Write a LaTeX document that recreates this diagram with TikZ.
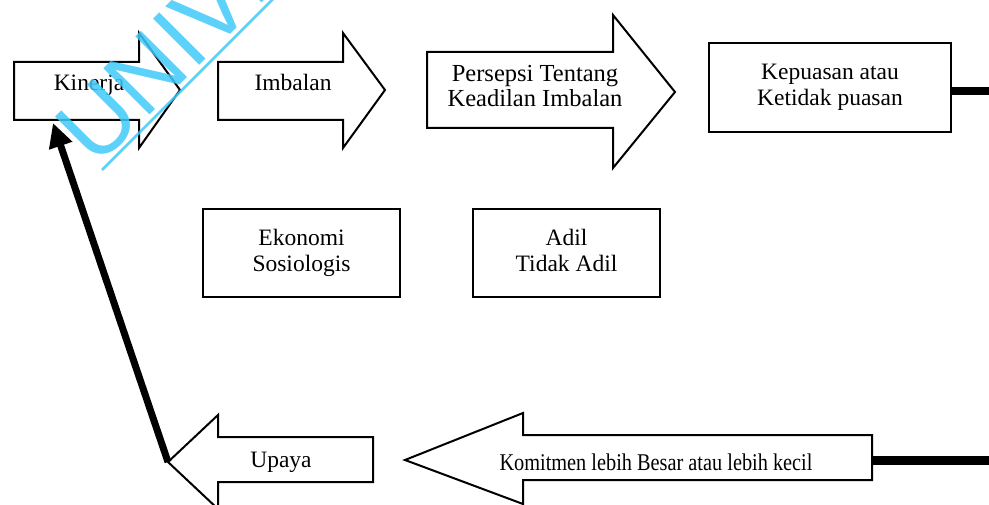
\documentclass[tikz,border=0pt]{standalone}
\usepackage{fontspec}
\setmainfont{Liberation Serif}
\newfontfamily\wmfont{Liberation Sans}
\usetikzlibrary{arrows.meta}
\definecolor{wmcyan}{RGB}{64,201,250}
\begin{document}
\begin{tikzpicture}[x=1pt,y=-1pt,
  shapeline/.style={draw=black,line width=2pt,line join=miter,fill=white},
  lbl/.style={font=\fontsize{23.5}{26}\selectfont,align=center,inner sep=0pt},
  boxnode/.style={shapeline,lbl,minimum width=#1},
  thickline/.style={draw=black,line width=8pt},
  wmtext/.style={font=\wmfont\fontsize{95}{95}\selectfont,text=wmcyan,inner sep=0pt,opacity=0.85},
  ]
\useasboundingbox (0,0) rectangle (989,505);
\fill[white] (0,0) rectangle (989,505);

% arrow shapes
\draw[shapeline] (14,62) -- (139,62) -- (139,33) -- (180,90) -- (139,148) -- (139,120) -- (14,120) -- cycle;
\draw[shapeline] (218,62) -- (343,62) -- (343,33) -- (385,90) -- (343,148) -- (343,120) -- (218,120) -- cycle;
\draw[shapeline] (427,52) -- (613,52) -- (613,15) -- (675,92) -- (613,168) -- (613,128) -- (427,128) -- cycle;
\draw[shapeline] (373,437) -- (218,437) -- (218,415) -- (168,462) -- (218,509) -- (218,482) -- (373,482) -- cycle;
\draw[shapeline] (872,435) -- (523,435) -- (523,413) -- (405,460) -- (523,504) -- (523,480) -- (872,480) -- cycle;

% labels on arrows
\node[lbl,anchor=base] (kinerja) at (89,91) {Kinerja};
\node[lbl,anchor=base] (imbalan) at (293,91) {Imbalan};
\node[lbl,font=\fontsize{24.5}{25}\selectfont] (persepsi) at (535,89.5) {\strut Persepsi Tentang\\Keadilan Imbalan\strut};
\node[lbl,anchor=base] (upaya) at (281,467) {Upaya};
\node[lbl,anchor=base,font=\fontsize{24}{26}\selectfont] (komitmen) at (656,470.5) {\scalebox{0.846}[1]{Komitmen lebih Besar atau lebih kecil}};

% boxes
\node[boxnode=242pt,minimum height=89pt] (kep) at (830,87.5) {\strut Kepuasan atau\\Ketidak puasan\strut};
\node[boxnode=197pt,minimum height=88pt] (eko) at (301.5,253) {\strut Ekonomi\\Sosiologis\strut};
\node[boxnode=187pt,minimum height=88pt] (adil) at (566.5,253) {\strut Adil\\Tidak Adil\strut};

% connectors
\coordinate (edgeA) at (989,91);
\coordinate (edgeB) at (989,460);
\coordinate (komR) at (872,460);
\coordinate (upayatip) at (168,462);
\coordinate (kinerjafoot) at (53,123);
\draw[thickline] (edgeA -| kep.east) -- (edgeA);
\draw[thickline,line width=9pt] (komR) -- (edgeB);
\draw[line width=7pt,-{Triangle[length=24pt,width=23pt]}] (upayatip) -- (kinerjafoot);

% watermark
\begin{scope}
\clip (0,0) rectangle (989,505);
\node[wmtext,rotate=45,anchor=base west] (wm) at (96,169) {UNIVE};
\draw[wmcyan,line width=2.5pt,opacity=0.85] (102,170) -- (282,-10);
\end{scope}
\end{tikzpicture}
\end{document}
